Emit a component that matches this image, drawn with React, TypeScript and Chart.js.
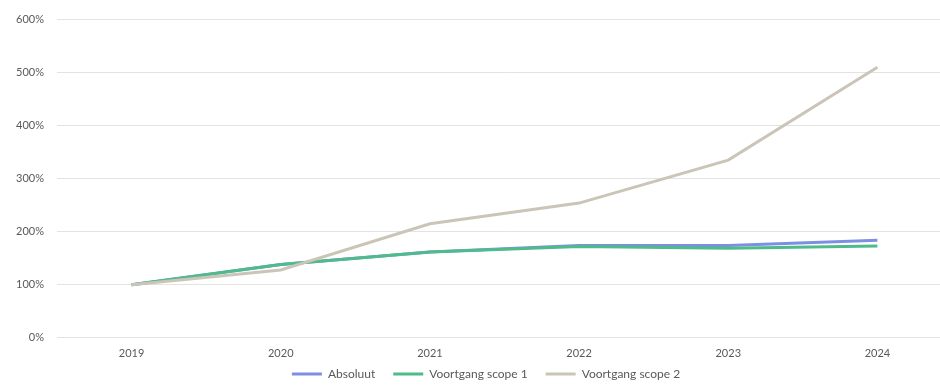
import React, { useEffect, useRef } from "react";
import { Chart, registerables } from "chart.js";

Chart.register(...registerables);

const years = ["2019", "2020", "2021", "2022", "2023", "2024"];
const absoluut = [100, 138, 162, 174, 174, 184];
const scope1 = [100, 138, 162, 172, 169, 173];
const scope2 = [100, 128, 215, 254, 335, 510];
const yTicks = [0, 100, 200, 300, 400, 500, 600];

const FONT = "Lato, 'Open Sans', sans-serif";

const LEGEND_TRIM = 20;
const LEGEND_DX = 10;

const legendShift = {
  id: "legendShift",
  beforeInit(chart: any) {
    const lg = chart.legend;
    if (!lg) return;
    const origFit = lg.fit.bind(lg);
    lg.fit = function () {
      origFit();
      this.height = Math.max(0, this.height - LEGEND_TRIM);
    };
    const origDraw = lg.draw.bind(lg);
    lg.draw = function (...args: any[]) {
      const saved = { top: this.top, bottom: this.bottom, left: this.left, right: this.right, height: this.height };
      this.top = saved.top - LEGEND_TRIM + 1;
      this.height = saved.bottom - this.top;
      this.left = saved.left + LEGEND_DX;
      this.right = saved.right + LEGEND_DX;
      try {
        origDraw(...args);
      } finally {
        this.top = saved.top;
        this.bottom = saved.bottom;
        this.left = saved.left;
        this.right = saved.right;
        this.height = saved.height;
      }
    };
  },
};

export default function App() {
  const ref = useRef<HTMLCanvasElement | null>(null);
  useEffect(() => {
    document.body.style.margin = "0";
    document.body.style.overflow = "hidden";
    const chart = new Chart(ref.current!, {
      type: "line",
      data: {
        labels: years,
        datasets: [
          { label: "Absoluut", data: absoluut, borderColor: "#7d8fe2", backgroundColor: "#7d8fe2", borderWidth: 3, pointRadius: 0, order: 2 },
          { label: "Voortgang scope 1", data: scope1, borderColor: "#4fbb8b", backgroundColor: "#4fbb8b", borderWidth: 3, pointRadius: 0, order: 1 },
          { label: "Voortgang scope 2", data: scope2, borderColor: "#cbc5b8", backgroundColor: "#cbc5b8", borderWidth: 3, pointRadius: 0, order: 0 },
        ],
      },
      plugins: [legendShift],
      options: {
        animation: false,
        responsive: false,
        layout: { padding: { top: 5, left: 0, right: 0, bottom: 0 } },
        plugins: {
          tooltip: { enabled: false },
          legend: {
            position: "bottom",
            labels: {
              usePointStyle: true,
              pointStyle: "line",
              pointStyleWidth: 30,
              boxHeight: 3,
              padding: 18,
              color: "#595959",
              font: { family: FONT, size: 12 },
              sort: (a: any, b: any) => a.datasetIndex - b.datasetIndex,
            },
          },
        },
        scales: {
          x: {
            offset: true,
            grid: { display: false, drawTicks: false },
            border: { display: false },
            ticks: { color: "#595959", font: { family: FONT, size: 11 }, padding: 9 },
          },
          y: {
            min: 0,
            max: 600,
            afterFit: (s: any) => { s.width = 57; },
            afterBuildTicks: (s: any) => { s.ticks = yTicks.map((v) => ({ value: v })); },
            grid: { color: "#e3e3e3", lineWidth: 1, drawTicks: false },
            border: { display: false },
            ticks: {
              color: "#595959",
              font: { family: FONT, size: 11 },
              padding: 13,
              callback: (v: any) => v + "%",
            },
          },
        },
      },
    });
    return () => chart.destroy();
  }, []);
  return (
    <div style={{ position: "absolute", left: 0, top: 0, width: 952, height: 389 }}>
      <canvas ref={ref} width={952} height={389} />
    </div>
  );
}
